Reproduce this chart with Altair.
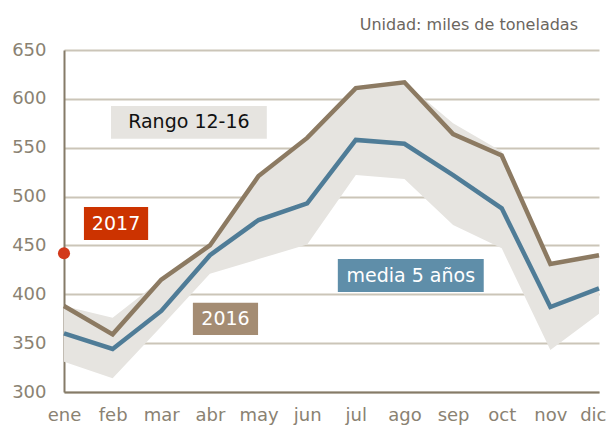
import altair as alt
import pandas as pd

# ---- data ----
months = ["ene", "feb", "mar", "abr", "may", "jun", "jul", "ago", "sep", "oct", "nov", "dic"]
y2016 = [388, 359, 415, 450, 521, 560, 611, 617, 564, 542, 431, 440]
media5 = [360, 344, 383, 440, 476, 493, 558, 554, 522, 488, 387, 406]
rango_max = [388, 376, 415, 450, 521, 560, 611, 617, 575, 546, 431, 441]
rango_min = [331, 314, 367, 421, 436, 451, 522, 518, 471, 447, 343, 380]
y2017_month = [0]
y2017 = [442]
y_ticks = [300, 350, 400, 450, 500, 550, 600, 650]
unidad = "Unidad: miles de toneladas"

# label boxes (annotation positions in data units)
label_text = ["Rango 12-16", "2017", "2016", "media 5 años"]
label_x1 = [0.966, 0.41, 2.65, 5.63]
label_x2 = [4.17, 1.73, 3.99, 8.63]
label_y1 = [559.2, 455.5, 358.3, 402.3]
label_y2 = [592.7, 489.3, 391.4, 436.1]
label_fill = ["#e6e4e0", "#cc3300", "#a48c73", "#5f8ea9"]
label_tcol = ["#111111", "#ffffff", "#ffffff", "#ffffff"]

df = pd.DataFrame({"m": list(range(12)), "mes": months, "y2016": y2016,
                   "media": media5, "lo": rango_min, "hi": rango_max})
pt = pd.DataFrame({"m": y2017_month, "v": y2017})
lab = pd.DataFrame({"t": label_text, "x1": label_x1, "x2": label_x2,
                    "y1": label_y1, "y2": label_y2, "fill": label_fill,
                    "tc": label_tcol})
lab["xc"] = (lab["x1"] + lab["x2"]) / 2
lab["yc"] = (lab["y1"] + lab["y2"]) / 2

FONT = "DejaVu Sans"
xs = alt.Scale(domain=[0, 11], nice=False, zero=False)
ys = alt.Scale(domain=[300, 650], nice=False, zero=False)
label_expr = "[" + ",".join("'%s'" % m for m in months) + "][datum.value]"

ax_x = alt.Axis(values=list(range(12)), labelExpr=label_expr, grid=False, ticks=False,
                domainColor="#857b68", domainWidth=2, labelFont=FONT, labelFontSize=18,
                labelColor="#8a8272", labelPadding=14, title=None, labelFlush=False,
                labelOverlap=False,
                labelAlign={"expr": "datum.value == 11 ? 'right' : 'center'"},
                labelOffset={"expr": "datum.value == 11 ? 7 : 0"})
ax_y = alt.Axis(values=y_ticks, grid=True, gridColor="#cbc5b8", gridWidth=2, ticks=False,
                domainColor="#857b68", domainWidth=2, labelFont=FONT, labelFontSize=18,
                labelColor="#8a8272", labelPadding=18, title=None)

band = alt.Chart(df).mark_area(color="#e6e4e0", opacity=1).encode(
    x=alt.X("m:Q", scale=xs, axis=ax_x),
    y=alt.Y("lo:Q", scale=ys, axis=ax_y),
    y2="hi:Q",
)
line16 = alt.Chart(df).mark_line(color="#8c7a62", strokeWidth=4.5).encode(
    x=alt.X("m:Q", scale=xs, axis=ax_x),
    y=alt.Y("y2016:Q", scale=ys, axis=ax_y),
)
linemed = alt.Chart(df).mark_line(color="#4f7c97", strokeWidth=4.5).encode(
    x=alt.X("m:Q", scale=xs, axis=ax_x),
    y=alt.Y("media:Q", scale=ys, axis=ax_y),
)
point17 = alt.Chart(pt).mark_circle(color="#d2391b", size=145, opacity=1).encode(
    x=alt.X("m:Q", scale=xs, axis=ax_x),
    y=alt.Y("v:Q", scale=ys, axis=ax_y),
)
boxes = alt.Chart(lab).mark_rect().encode(
    x=alt.X("x1:Q", scale=xs, axis=ax_x),
    x2="x2:Q",
    y=alt.Y("y1:Q", scale=ys, axis=ax_y),
    y2="y2:Q",
    color=alt.Color("fill:N", scale=None),
)
texts = alt.Chart(lab).mark_text(font=FONT, fontSize=19, align="center", baseline="middle").encode(
    x=alt.X("xc:Q", scale=xs, axis=ax_x),
    y=alt.Y("yc:Q", scale=ys, axis=ax_y),
    text="t:N",
    color=alt.Color("tc:N", scale=None),
)
unit = alt.Chart(pd.DataFrame({"t": [unidad]})).mark_text(
    font=FONT, fontSize=16, align="right", baseline="alphabetic", color="#6b665e"
).encode(text="t:N", x=alt.value(514), y=alt.value(-20))

chart = alt.layer(band, line16, linemed, point17, boxes, texts, unit).properties(
    width=535, height=342,
    autosize=alt.AutoSizeParams(type="none"),
    padding={"left": 56, "top": 42, "right": 8, "bottom": 36},
    background="white",
).configure_view(stroke=None)

chart.save("out.html", embed_options={"renderer": "svg", "actions": False})
